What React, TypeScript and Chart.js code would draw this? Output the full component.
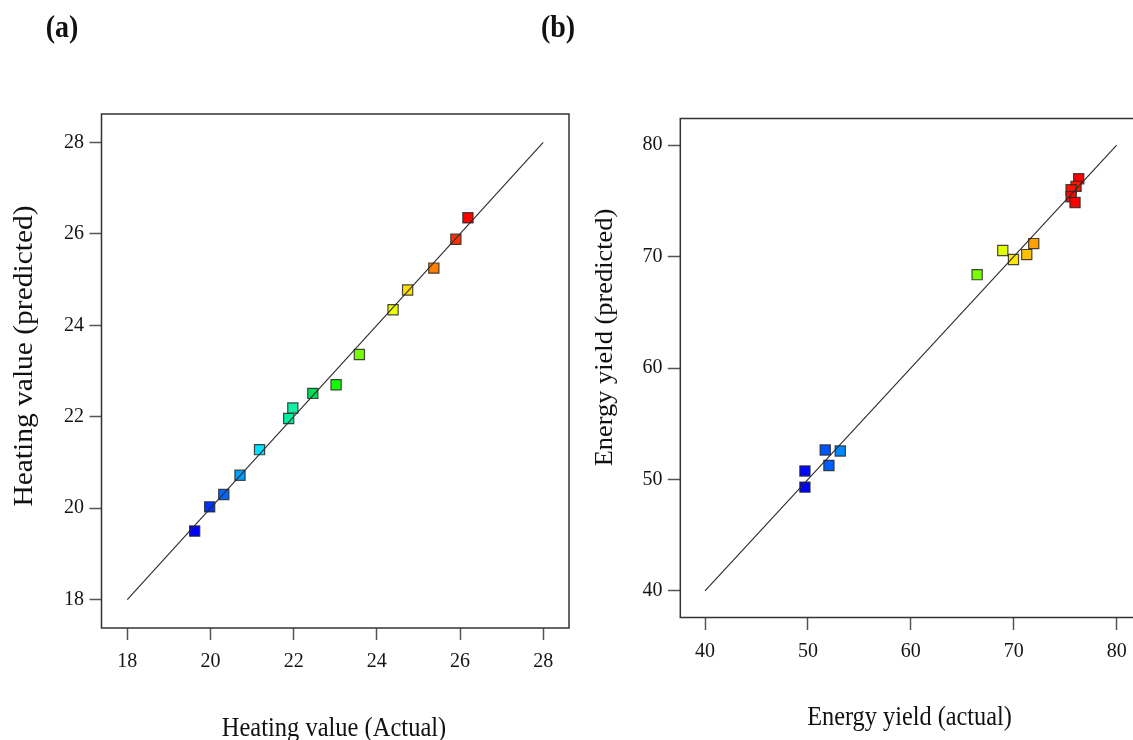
import React, { useEffect, useRef } from "react";
import { Chart, registerables } from "chart.js";

Chart.register(...registerables);

// ---------- Data: panel (a) Heating value ----------
const heatingActual = [19.62, 19.98, 20.32, 20.71, 21.18, 21.88, 21.98, 22.46, 23.02, 23.58, 24.39, 24.74, 25.37, 25.9, 26.19];
const heatingPredicted = [19.5, 20.03, 20.3, 20.72, 21.28, 21.96, 22.19, 22.51, 22.7, 23.36, 24.34, 24.77, 25.25, 25.88, 26.35];
const heatingColors = [
  "#0000FF", "#0033FF", "#0066FF", "#00A0FF", "#00E0FF", "#00EFA0", "#10F0A8", "#00DD55",
  "#11FF00", "#77FF00", "#EEFF00", "#FFE000", "#FF8000", "#FF3300", "#FF0000",
];
const heatingTicks = [18, 20, 22, 24, 26, 28];
const heatingRange = [17.38, 28.62];
const heatingLine = [18, 28];

// ---------- Data: panel (b) Energy yield ----------
const energyActual = [49.71, 49.71, 51.68, 52.04, 53.14, 66.44, 68.93, 69.97, 71.26, 71.94, 76.31, 76.05, 75.57, 75.57, 75.95];
const energyPredicted = [49.3, 50.75, 52.64, 51.25, 52.55, 68.38, 70.55, 69.74, 70.18, 71.17, 76.99, 76.31, 76.0, 75.38, 74.86];
const energyColors = [
  "#0000FF", "#0008FF", "#0055FF", "#0060FF", "#0088FF", "#77FF00", "#E0FF00", "#FFE800",
  "#FFC000", "#FFA000", "#FF0000", "#FF1500", "#FF1000", "#FF0800", "#FF0000",
];
const energyTicks = [40, 50, 60, 70, 80];
const energyRange = [37.6, 82.4];
const energyLine = [40, 80];

const FONT = "'Liberation Serif', 'Times New Roman', serif";
const H = 740;

type TextItem = { text: string; x: number; y: number; size: number; bold?: boolean; rot?: number; sy?: number };

const framePlugin = {
  id: "frameText",
  afterDraw(chart: any, _args: any, opts: any) {
    const { ctx, chartArea } = chart;
    ctx.save();
    ctx.strokeStyle = "#333";
    ctx.lineWidth = 1.5;
    ctx.strokeRect(chartArea.left, chartArea.top, chartArea.right - chartArea.left, chartArea.bottom - chartArea.top);
    ctx.restore();
    const texts: TextItem[] = opts.texts || [];
    const off = opts.offsetX || 0;
    texts.forEach((t) => {
      ctx.save();
      ctx.translate(t.x - off, t.y);
      ctx.scale(1, t.sy || 1);
      if (t.rot) ctx.rotate((t.rot * Math.PI) / 180);
      ctx.font = `${t.bold ? "bold " : ""}${t.size}px ${FONT}`;
      ctx.fillStyle = "#111";
      ctx.textAlign = "center";
      ctx.textBaseline = "alphabetic";
      ctx.fillText(t.text, 0, 0);
      ctx.restore();
    });
  },
};

type PanelCfg = {
  xs: number[];
  ys: number[];
  colors: string[];
  ticks: number[];
  range: number[];
  line: number[];
  area: { left: number; right: number; top: number; bottom: number };
  canvasLeft: number;
  canvasWidth: number;
  tickLen: number;
  yPad: number;
  xPad: number;
  texts: TextItem[];
};

function makeConfig(p: PanelCfg): any {
  const tickFont = { family: FONT, size: 20 };
  const setTicks = (s: any) => {
    s.ticks = p.ticks.map((v) => ({ value: v }));
  };
  return {
    type: "scatter",
    data: {
      datasets: [
        {
          type: "line",
          data: p.line.map((v) => ({ x: v, y: v })),
          borderColor: "#2a2a2a",
          borderWidth: 1.1,
          pointRadius: 0,
          fill: false,
          order: 0,
        },
        {
          type: "scatter",
          data: p.xs.map((x, i) => ({ x, y: p.ys[i] })),
          backgroundColor: p.colors,
          borderColor: "rgba(40,40,40,0.85)",
          borderWidth: 1.2,
          pointStyle: "rect",
          pointRadius: 7.2,
          order: 1,
        },
      ],
    },
    options: {
      responsive: false,
      animation: false,
      events: [],
      layout: {
        padding: {
          left: 0,
          top: p.area.top,
          right: p.canvasWidth - (p.area.right - p.canvasLeft),
          bottom: 0,
        },
      },
      plugins: {
        legend: { display: false },
        tooltip: { enabled: false },
        frameText: { texts: p.texts, offsetX: p.canvasLeft },
      },
      scales: {
        x: {
          type: "linear",
          position: "bottom",
          min: p.range[0],
          max: p.range[1],
          afterBuildTicks: setTicks,
          afterFit: (s: any) => {
            s.height = H - p.area.bottom;
          },
          grid: { drawOnChartArea: false, drawTicks: true, tickLength: p.tickLen, tickColor: "#555", tickWidth: 1.5 },
          border: { display: false },
          ticks: { font: tickFont, color: "#151515", padding: p.xPad, maxRotation: 0, autoSkip: false },
        },
        y: {
          type: "linear",
          position: "left",
          min: p.range[0],
          max: p.range[1],
          afterBuildTicks: setTicks,
          afterFit: (s: any) => {
            s.width = p.area.left - p.canvasLeft;
          },
          grid: { drawOnChartArea: false, drawTicks: true, tickLength: p.tickLen, tickColor: "#555", tickWidth: 1.5 },
          border: { display: false },
          ticks: { font: tickFont, color: "#151515", padding: p.yPad, autoSkip: false },
        },
      },
    },
    plugins: [framePlugin],
  };
}

function Panel({ cfg }: { cfg: PanelCfg }) {
  const ref = useRef<HTMLCanvasElement>(null);
  useEffect(() => {
    const chart = new Chart(ref.current as HTMLCanvasElement, makeConfig(cfg));
    return () => chart.destroy();
  }, []);
  return (
    <canvas
      ref={ref}
      width={cfg.canvasWidth}
      height={H}
      style={{ position: "absolute", left: cfg.canvasLeft, top: 0, width: cfg.canvasWidth, height: H }}
    />
  );
}

const panelA: PanelCfg = {
  xs: heatingActual,
  ys: heatingPredicted,
  colors: heatingColors,
  ticks: heatingTicks,
  range: heatingRange,
  line: heatingLine,
  area: { left: 101.5, right: 569, top: 114, bottom: 628 },
  canvasLeft: 0,
  canvasWidth: 600,
  tickLen: 12,
  yPad: 5.5,
  xPad: 10,
  texts: [
    { text: "(a)", x: 62, y: 37, size: 28, bold: true, sy: 1.1 },
    { text: "Heating value (Actual)", x: 334, y: 736, size: 24.5, sy: 1.1 },
    { text: "Heating value (predicted)", x: 31.5, y: 356, size: 26.8, sy: 1.1, rot: -90 },
  ],
};

const panelB: PanelCfg = {
  xs: energyActual,
  ys: energyPredicted,
  colors: energyColors,
  ticks: energyTicks,
  range: energyRange,
  line: energyLine,
  area: { left: 680.3, right: 1141.4, top: 118.5, bottom: 617.5 },
  canvasLeft: 500,
  canvasWidth: 660,
  tickLen: 12.5,
  yPad: 5.3,
  xPad: 10,
  texts: [
    { text: "(b)", x: 558, y: 37, size: 28, bold: true, sy: 1.1 },
    { text: "Energy yield (actual)", x: 909.5, y: 725, size: 24.3, sy: 1.083 },
    { text: "Energy yield (predicted)", x: 611.5, y: 337.5, size: 25, sy: 1.056, rot: -90 },
  ],
};

export default function App() {
  return (
    <div
      style={{
        position: "absolute",
        left: 0,
        top: 0,
        width: 1133,
        height: H,
        overflow: "hidden",
        background: "#fff",
      }}
    >
      <Panel cfg={panelA} />
      <Panel cfg={panelB} />
    </div>
  );
}
